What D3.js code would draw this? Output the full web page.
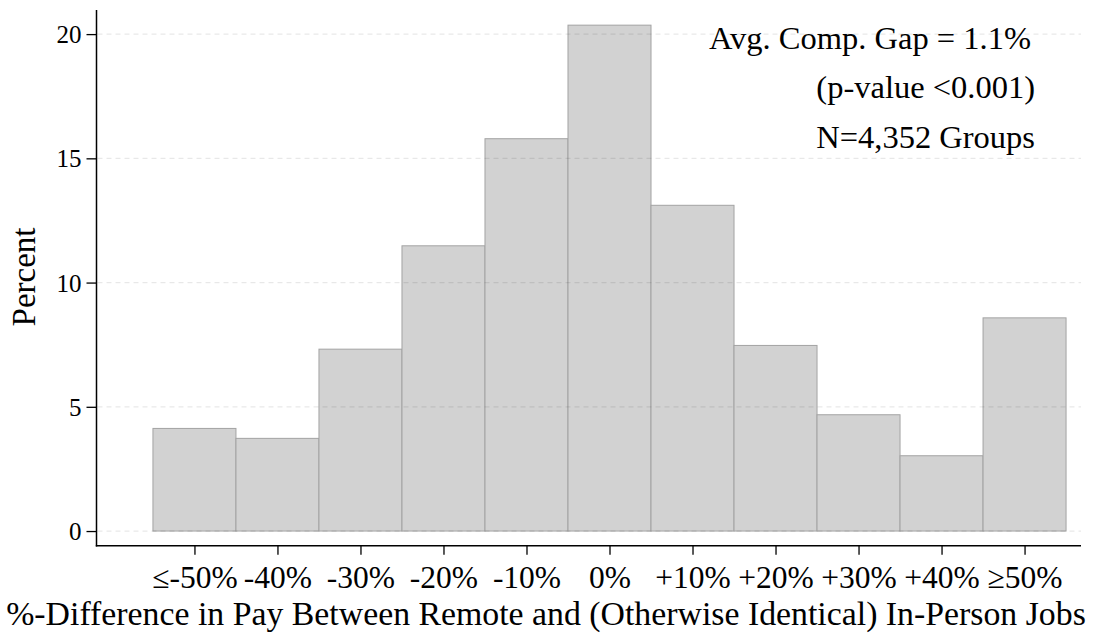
<!DOCTYPE html>
<html>
<head>
<meta charset="utf-8">
<script src="https://cdn.jsdelivr.net/npm/d3@7/dist/d3.min.js"></script>
<style>
  html, body { margin: 0; padding: 0; background: #fff; }
  svg { display: block; }
  text { font-family: "Liberation Serif", "Times New Roman", serif; fill: #000; }
</style>
</head>
<body>
<svg id="chart" width="1093" height="633"></svg>
<script>
const categories = ["≤-50%", "-40%", "-30%", "-20%", "-10%", "0%", "+10%", "+20%", "+30%", "+40%", "≥50%"];
const percents = [4.13, 3.73, 7.32, 11.48, 15.79, 20.36, 13.11, 7.47, 4.68, 3.03, 8.58];
const yTicks = [0, 5, 10, 15, 20];
const notes = ["Avg. Comp. Gap = 1.1%", "(p-value <0.001)", "N=4,352 Groups"];
const yTitle = "Percent";
const xTitle = "%-Difference in Pay Between Remote and (Otherwise Identical) In-Person Jobs";

const svg = d3.select("#chart");
const mLeft = 96.5, mRight = 1081, mTop = 10, mBottom = 545.7;

const x = d3.scaleLinear().domain([-1.18, 10.68]).range([mLeft, mRight]);
const y = d3.scaleLinear().domain([-0.59, 20.97]).range([mBottom, mTop]);

// bars
svg.append("g").selectAll("rect").data(percents).join("rect")
  .attr("x", (d, i) => x(i - 0.5))
  .attr("width", (d, i) => x(i + 0.5) - x(i - 0.5))
  .attr("y", d => y(d))
  .attr("height", d => y(0) - y(d))
  .attr("fill", "#d2d2d2")
  .attr("stroke", "#a3a3a3")
  .attr("stroke-width", 1);

// gridlines (drawn over bars)
svg.append("g").selectAll("line").data(yTicks).join("line")
  .attr("x1", mLeft + 1).attr("x2", mRight)
  .attr("y1", d => y(d)).attr("y2", d => y(d))
  .attr("stroke", "#000").attr("stroke-opacity", 0.09)
  .attr("stroke-width", 1.2)
  .attr("stroke-dasharray", "5,4");

// y axis
const yAxis = svg.append("g").attr("transform", `translate(${mLeft},0)`)
  .call(d3.axisLeft(y).tickValues(yTicks).tickSize(10).tickPadding(5).tickSizeOuter(0));
yAxis.select(".domain").remove();
yAxis.selectAll(".tick line").attr("stroke", "#000").attr("stroke-width", 1.3);
yAxis.selectAll(".tick text").style("font-size", "25px").attr("dy", "0.34em");
svg.append("line").attr("x1", mLeft).attr("x2", mLeft).attr("y1", mTop).attr("y2", mBottom + 0.7)
  .attr("stroke", "#000").attr("stroke-width", 1.5);

// x axis
const xAxis = svg.append("g").attr("transform", `translate(0,${mBottom})`)
  .call(d3.axisBottom(x).tickValues(d3.range(categories.length)).tickFormat(i => categories[i]).tickSize(9).tickPadding(11).tickSizeOuter(0));
xAxis.select(".domain").remove();
xAxis.selectAll(".tick line").attr("stroke", "#000").attr("stroke-width", 1.3);
xAxis.selectAll(".tick text").style("font-size", "31.5px").attr("dy", "0.71em");
svg.append("line").attr("x1", mLeft - 0.7).attr("x2", mRight).attr("y1", mBottom).attr("y2", mBottom)
  .attr("stroke", "#000").attr("stroke-width", 1.5);

// titles
svg.append("text").attr("x", 546).attr("y", 625).attr("text-anchor", "middle")
  .style("font-size", "33.8px").text(xTitle);
svg.append("text").attr("transform", "translate(35,277) rotate(-90)").attr("text-anchor", "middle")
  .style("font-size", "33px").text(yTitle);

// annotations
const noteBase = [49, 98, 148];
svg.append("g").selectAll("text").data(notes).join("text")
  .attr("x", (d, i) => i === 0 ? 1031 : 1035)
  .attr("y", (d, i) => noteBase[i])
  .attr("text-anchor", "end")
  .style("font-size", "32.5px")
  .text(d => d);
</script>
</body>
</html>
